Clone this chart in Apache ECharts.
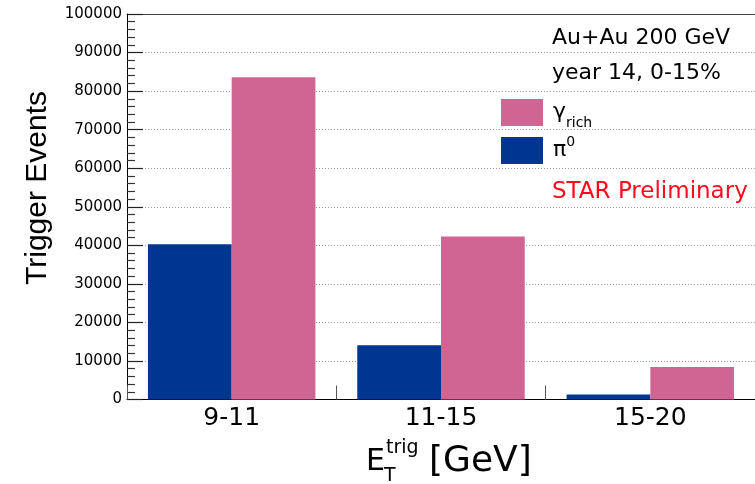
<!DOCTYPE html>
<html><head><meta charset="utf-8">
<script src="https://cdn.jsdelivr.net/npm/echarts@6/dist/echarts.min.js"></script>
<style>html,body{margin:0;padding:0;background:#fff}#c{width:755px;height:484px}</style>
</head><body><div id="c"></div>
<script>
// ---- data ----
const categories = ['9-11', '11-15', '15-20'];
const pi0Values = [40300, 14100, 1300];
const gammaRichValues = [83600, 42300, 8400];
const yMin = 0, yMax = 100000, yInterval = 10000;
const seriesNames = ['π0', 'γrich'];
const infoLines = ['Au+Au 200 GeV', 'year 14, 0-15%'];
const prelimText = 'STAR Preliminary';

const FONT = '"DejaVu Sans", Verdana, sans-serif';
const VFONT = '"Liberation Sans", Arial, Helvetica, sans-serif';
const PINK = '#d06594';
const BLUE = '#003592';

const chart = echarts.init(document.getElementById('c'), null, {renderer: 'canvas'});
chart.setOption({
  backgroundColor: '#fff',
  animation: false,
  textStyle: {fontFamily: FONT},
  grid: {left: 127, right: -5, top: 14, bottom: 84.5, containLabel: false},
  legend: {
    orient: 'vertical', left: 501, top: 99, padding: 0, itemWidth: 42, itemHeight: 27, itemGap: 2,
    icon: 'rect', data: [seriesNames[1], seriesNames[0]],
    formatter: function (n) {
      return n === seriesNames[1] ? '{g|γ}{sub|rich}' : '{p|π}{sup|0}';
    },
    textStyle: {
      color: '#000', fontFamily: FONT, padding: [0, 0, 0, 0],
      rich: {
        g: {fontSize: 22, lineHeight: 36, verticalAlign: 'middle', color: '#000', fontFamily: FONT, padding: [0, 0, 0, 5]},
        p: {fontSize: 22, lineHeight: 36, verticalAlign: 'middle', color: '#000', fontFamily: FONT, padding: [0, 0, 0, 5]},
        sub: {fontSize: 14, lineHeight: 12, verticalAlign: 'bottom', color: '#000', fontFamily: FONT},
        sup: {fontSize: 14, lineHeight: 14, verticalAlign: 'top', color: '#000', fontFamily: FONT, padding: [3, 0, 0, 0]}
      }
    }
  },
  xAxis: [{
    type: 'category', data: categories, position: 'bottom',
    axisLine: {show: true, lineStyle: {color: '#000', width: 1}},
    axisTick: {show: true, inside: true, length: 14, alignWithLabel: false, lineStyle: {color: '#555'}},
    axisLabel: {fontSize: 25, color: '#000', margin: 6, fontFamily: FONT},
    splitLine: {show: false}
  }, {
    type: 'category', data: categories, position: 'top',
    axisLine: {show: true, lineStyle: {color: '#444', width: 1}},
    axisTick: {show: false}, axisLabel: {show: false}, splitLine: {show: false}
  }],
  yAxis: {
    type: 'value', min: yMin, max: yMax, interval: yInterval,
    axisLine: {show: true, lineStyle: {color: '#000', width: 1}},
    axisTick: {show: true, inside: true, length: 16, lineStyle: {color: '#222', width: 1.2}},
    minorTick: {show: true, splitNumber: 5, length: 8, lineStyle: {color: '#333', width: 1.2}},
    axisLabel: {fontSize: 15, color: '#000', margin: 5, fontFamily: FONT,
      formatter: function (v) { return String(v); }},
    splitLine: {show: true, lineStyle: {color: '#999', width: 1, type: [1, 2]}}
  },
  series: [{
    name: seriesNames[0], type: 'bar', data: pi0Values, barGap: '0%', barCategoryGap: '20%',
    itemStyle: {color: BLUE}
  }, {
    name: seriesNames[1], type: 'bar', data: gammaRichValues, barGap: '0%', barCategoryGap: '20%',
    itemStyle: {color: PINK}
  }],
  graphic: [
    {type: 'text', x: 38, y: 188, rotation: Math.PI / 2,
      style: {text: 'Trigger Events', font: '30px ' + VFONT, fill: '#000', align: 'center', verticalAlign: 'middle'}},
    {type: 'text', x: 366, y: 462,
      style: {text: 'E', font: '30px ' + FONT, fill: '#000', align: 'left', verticalAlign: 'middle'}},
    {type: 'text', x: 386, y: 448,
      style: {text: 'trig', font: '19px ' + FONT, fill: '#000', align: 'left', verticalAlign: 'middle'}},
    {type: 'text', x: 384, y: 476,
      style: {text: 'T', font: '19px ' + FONT, fill: '#000', align: 'left', verticalAlign: 'middle'}},
    {type: 'text', x: 429, y: 462,
      style: {text: '[GeV]', font: '36px ' + FONT, fill: '#000', align: 'left', verticalAlign: 'middle'}},
    {type: 'text', x: 552, y: 38,
      style: {text: infoLines[0], font: '22px ' + FONT, fill: '#000', align: 'left', verticalAlign: 'middle'}},
    {type: 'text', x: 552, y: 73,
      style: {text: infoLines[1], font: '22px ' + FONT, fill: '#000', align: 'left', verticalAlign: 'middle'}},
    {type: 'text', x: 552, y: 192,
      style: {text: prelimText, font: '23px ' + FONT, fill: '#ff0a1e', align: 'left', verticalAlign: 'middle'}}
  ]
});
</script>
</body></html>
